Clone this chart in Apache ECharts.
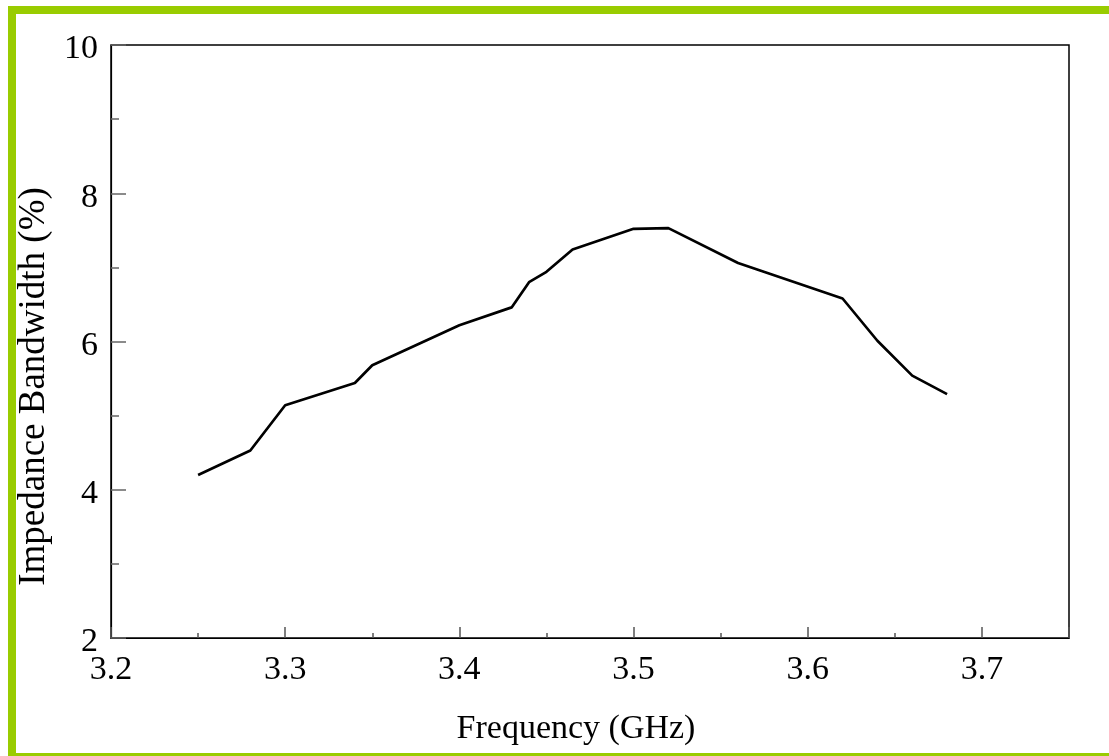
<!DOCTYPE html>
<html>
<head>
<meta charset="utf-8">
<script src="https://cdn.jsdelivr.net/npm/echarts@6/dist/echarts.min.js"></script>
<style>
  html, body { margin: 0; padding: 0; background: #fff; }
  #chart { width: 1109px; height: 756px; }
</style>
</head>
<body>
<div id="chart"></div>
<script>
const frequencyGHz = [3.25, 3.28, 3.30, 3.34, 3.35, 3.40, 3.43, 3.44, 3.45, 3.465, 3.50, 3.52, 3.56, 3.62, 3.64, 3.66, 3.68];
const bandwidthPct = [4.20, 4.53, 5.14, 5.44, 5.68, 6.22, 6.46, 6.80, 6.94, 7.24, 7.52, 7.53, 7.06, 6.58, 6.01, 5.54, 5.29];
const xTickLabels = ['3.2', '3.3', '3.4', '3.5', '3.6', '3.7'];
const yTickLabels = ['2', '4', '6', '8', '10'];

const points = frequencyGHz.map((f, i) => [f, bandwidthPct[i]]);
const FONT = '"Liberation Serif", "Times New Roman", serif';
const GREEN = '#99CC00';

const chart = echarts.init(document.getElementById('chart'), null, { renderer: 'canvas' });
chart.setOption({
  backgroundColor: '#fff',
  animation: false,
  graphic: [
    { type: 'rect', shape: { x: 8, y: 6, width: 1101, height: 8 }, style: { fill: GREEN }, z: 100 },
    { type: 'rect', shape: { x: 8, y: 6, width: 8, height: 750 }, style: { fill: GREEN }, z: 100 },
    { type: 'rect', shape: { x: 8, y: 753, width: 1101, height: 8 }, style: { fill: GREEN }, z: 100 }
  ],
  grid: {
    left: 111, right: 40, top: 45, bottom: 118,
    show: true, borderColor: '#000', borderWidth: 1.5, containLabel: false
  },
  xAxis: {
    type: 'value', min: 3.2, max: 3.75, interval: 0.1,
    name: 'Frequency (GHz)', nameLocation: 'middle', nameGap: 74,
    nameTextStyle: { fontFamily: FONT, fontSize: 34, color: '#000', padding: [0, 28, 0, 0] },
    axisLine: { show: true, lineStyle: { color: '#000', width: 1.2 } },
    axisTick: { show: true, inside: true, length: 11, lineStyle: { color: '#555', width: 1.5 } },
    minorTick: { show: true, splitNumber: 2, length: 5, lineStyle: { color: '#555', width: 1.5 } },
    splitLine: { show: false },
    axisLabel: {
      fontFamily: FONT, fontSize: 34, color: '#000', margin: 15,
      showMaxLabel: false,
      formatter: v => { const s = v.toFixed(1); return xTickLabels.includes(s) && Math.abs(v - parseFloat(s)) < 1e-9 ? s : ''; }
    }
  },
  yAxis: {
    type: 'value', min: 2, max: 10, interval: 2,
    name: 'Impedance Bandwidth (%)', nameLocation: 'middle', nameGap: 50,
    nameTextStyle: { fontFamily: FONT, fontSize: 37, color: '#000', padding: [0, 90, 0, 0] },
    axisLine: { show: true, lineStyle: { color: '#000', width: 1.2 } },
    axisTick: { show: true, inside: true, length: 15, lineStyle: { color: '#666', width: 1.5 } },
    minorTick: { show: true, splitNumber: 2, length: 8, lineStyle: { color: '#666', width: 1.5 } },
    splitLine: { show: false },
    axisLabel: {
      fontFamily: FONT, fontSize: 34, color: '#000', margin: 13,
      verticalAlign: 'top', lineHeight: 9,
      formatter: v => { const s = String(Math.round(v)); return yTickLabels.includes(s) ? s : ''; }
    }
  },
  series: [{
    type: 'line',
    data: points,
    showSymbol: false,
    symbol: 'none',
    lineStyle: { color: '#000', width: 2.7 },
    itemStyle: { color: '#000' }
  }]
});
</script>
</body>
</html>
